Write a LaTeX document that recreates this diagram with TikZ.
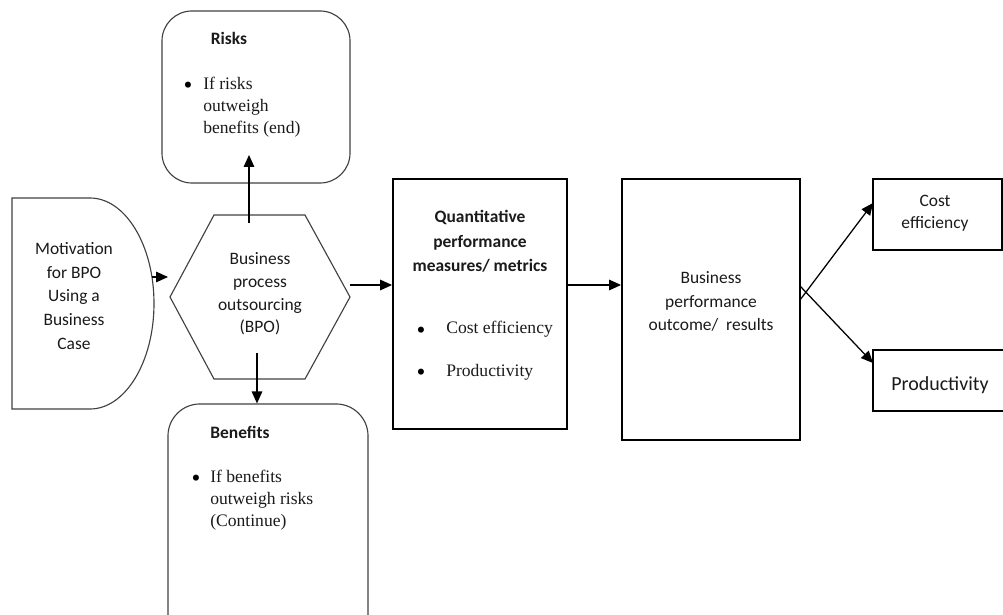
\documentclass[tikz,border=0pt]{standalone}
\usepackage{fontspec}
\setmainfont{Liberation Serif}
\setsansfont{Carlito}
\usetikzlibrary{arrows.meta}
\definecolor{FlowLine}{HTML}{404040}
\definecolor{FlowInk}{HTML}{1A1A1A}

\begin{document}
\begin{tikzpicture}[x=0.025cm,y=-0.025cm,
  arr/.style={draw=black,line width=0.9pt,-{Triangle[length=8.5pt,width=7.5pt]}},
  softbox/.style={draw=FlowLine,line width=0.8pt,inner sep=0pt},
  heavybox/.style={draw=black,line width=1.3pt,inner sep=0pt},
  plainbox/.style={draw=black,line width=1pt,inner sep=0pt},
  sanstxt/.style={text=FlowInk,font=\sffamily\fontsize{12.4}{17}\selectfont,align=center,inner sep=0pt},
  serftxt/.style={text=FlowInk,font=\fontsize{12.5}{15.6}\selectfont,align=left,inner sep=0pt},
  dot/.style={text=black,font=\fontsize{18}{18}\selectfont,inner sep=0pt},
]
\useasboundingbox (0,0) rectangle (1003,615);
\clip (0,0) rectangle (1003,615);

% left: motivation
\draw[softbox] (90,198) -- (12,198) -- (12,409) -- (90,409)
  .. controls (125.3,409) and (154,361.8) .. (154,303.5)
  .. controls (154,245.2) and (125.3,198) .. (90,198);
\node[sanstxt] (motiv) at (74,296) {Motivation\\for BPO\\Using a\\Business\\Case};

% hexagon
\draw[softbox] (214,215) -- (305,215) -- (350,297) -- (305,379) -- (214,379) -- (170,297) -- cycle;
\node[sanstxt,font=\sffamily\fontsize{12.4}{16.1}\selectfont] (bpo) at (260,294) {Business\\process\\outsourcing\\(BPO)};

% risks / benefits
\node[softbox,rounded corners=0.75cm,minimum width=4.7cm,minimum height=4.3cm] (risks) at (256,97) {};
\node[sanstxt,font=\sffamily\bfseries\fontsize{12.4}{17}\selectfont] (risksHead) at (229,38) {Risks};
\node[dot] (risksDot) at (188,88) {\textbullet};
\node[serftxt,anchor=north west] (risksTxt) at (203,77) {If risks\\outweigh\\benefits (end)};

\node[softbox,rounded corners=0.8cm,minimum width=5cm,minimum height=6.4cm] (benef) at (268,532) {};
\node[sanstxt,font=\sffamily\bfseries\fontsize{12.4}{17}\selectfont] (benefHead) at (240,432) {Benefits};
\node[dot] (benefDot) at (196,481) {\textbullet};
\node[serftxt,anchor=north west] (benefTxt) at (210,470) {If benefits\\outweigh risks\\(Continue)};

% measures and outcome
\node[heavybox,minimum width=4.35cm,minimum height=6.25cm] (quant) at (480,304) {};
\node[sanstxt,font=\sffamily\bfseries\fontsize{12.4}{17.4}\selectfont] (quantHead) at (480,241.5) {Quantitative\\performance\\measures/ metrics};
\node[dot] (quantDotA) at (421,333) {\textbullet};
\node[serftxt,anchor=base west] (quantA) at (446,334) {Cost efficiency};
\node[dot] (quantDotB) at (421,375) {\textbullet};
\node[serftxt,anchor=base west] (quantB) at (446,376) {Productivity};

\node[heavybox,minimum width=4.45cm,minimum height=6.525cm] (outc) at (711,309.5) {};
\node[sanstxt,font=\sffamily\fontsize{12.4}{16.7}\selectfont] (outcTxt) at (711,301.5) {Business\\performance\\outcome/\ \ results};

% right boxes
\node[plainbox,minimum width=3.225cm,minimum height=1.775cm] (cost) at (937.5,214.5) {};
\node[sanstxt,font=\sffamily\fontsize{12.4}{15.6}\selectfont] (costTxt) at (935,213) {Cost\\efficiency};
\node[plainbox,minimum width=3.3cm,minimum height=1.525cm] (prod) at (939,380.5) {};
\node[sanstxt,font=\sffamily\fontsize{14.2}{17}\selectfont] (prodTxt) at (940,385) {Productivity};

% connector ends
\coordinate (motivOut) at (152,277);
\coordinate (bpoIn) at (168,277);
\coordinate (bpoUp) at (249,223);
\coordinate (risksIn) at (249,155);
\coordinate (bpoDown) at (257,353);
\coordinate (bpoOut) at (350,285);
\coordinate (outcA) at (800,300);
\coordinate (outcB) at (800,286);
\coordinate (costIn) at (873,203);
\coordinate (prodIn) at (873,363);

\draw[arr] (motivOut) -- (bpoIn);
\draw[arr] (bpoUp) -- (risksIn);
\draw[arr] (bpoDown) -- (bpoDown |- benef.north);
\draw[arr] (bpoOut) -- (bpoOut -| quant.west);
\draw[arr] (bpoOut -| quant.east) -- (bpoOut -| outc.west);
\draw[arr] (outcA) -- (costIn);
\draw[arr] (outcB) -- (prodIn);
\end{tikzpicture}
\end{document}
